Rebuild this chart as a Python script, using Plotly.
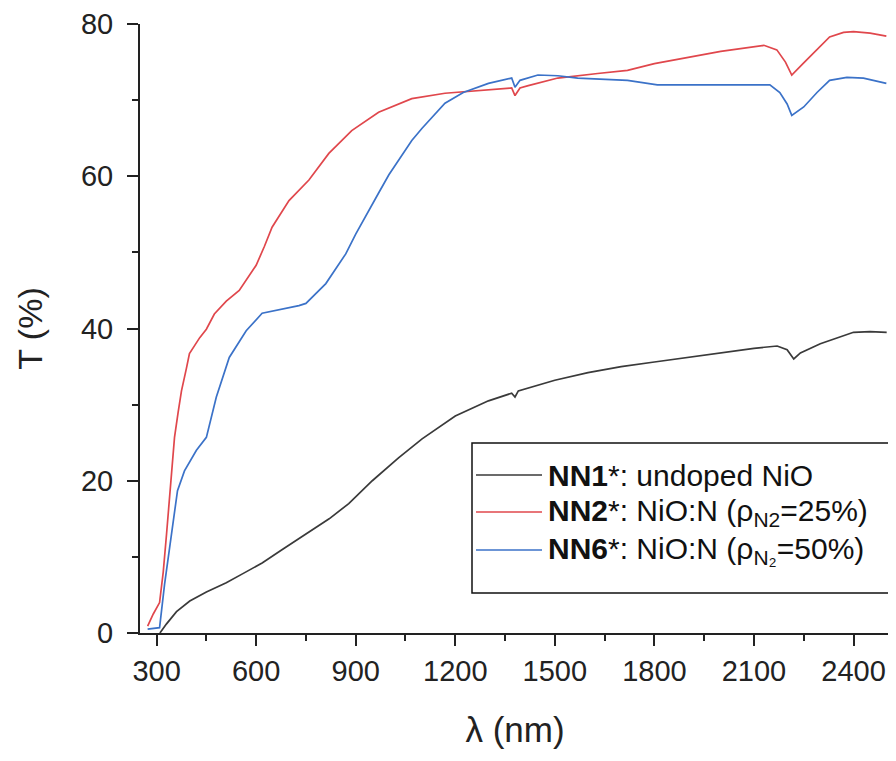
import plotly.graph_objects as go

# NN1 (undoped NiO)
nn1_wl = [310, 330, 360, 400, 450, 510, 560, 618, 680, 750, 820, 879, 950, 1029, 1100, 1200, 1300, 1370, 1380, 1390, 1450, 1500, 1600, 1700, 1800, 1900, 2000, 2100, 2170, 2200, 2220, 2240, 2300, 2350, 2400, 2450, 2500]
nn1_T = [0, 1.2, 2.8, 4.2, 5.4, 6.6, 7.8, 9.2, 11, 13, 15, 17, 20, 23, 25.5, 28.5, 30.5, 31.5, 31.0, 31.8, 32.6, 33.2, 34.2, 35, 35.6, 36.2, 36.8, 37.4, 37.7, 37.2, 36.0, 36.8, 38, 38.8, 39.5, 39.6, 39.5]

# NN2 (NiO:N, 25%)
nn2_wl = [273, 290, 309, 320, 330, 345, 354, 365, 375, 390, 399, 430, 450, 474, 510, 549, 600, 625, 648, 699, 759, 819, 888, 969, 1069, 1169, 1224, 1300, 1370, 1380, 1395, 1420, 1509, 1629, 1719, 1800, 2000, 2130, 2169, 2195, 2214, 2250, 2290, 2328, 2370, 2400, 2450, 2499]
nn2_T = [0.9, 2.5, 4, 8, 13, 20.4, 25.7, 29, 31.8, 34.8, 36.7, 38.8, 39.9, 41.9, 43.6, 45, 48.3, 50.8, 53.3, 56.8, 59.5, 63, 66, 68.4, 70.2, 70.9, 71.1, 71.4, 71.6, 70.6, 71.6, 71.9, 72.9, 73.5, 73.9, 74.8, 76.4, 77.2, 76.6, 75, 73.3, 74.9, 76.7, 78.3, 78.9, 79, 78.8, 78.4]

# NN6 (NiO:N, 50%)
nn6_wl = [273, 309, 324, 345, 363, 384, 420, 450, 480, 519, 570, 618, 690, 729, 750, 810, 870, 900, 969, 1000, 1069, 1100, 1169, 1224, 1300, 1370, 1380, 1395, 1449, 1509, 1569, 1719, 1809, 2148, 2178, 2200, 2214, 2250, 2290, 2328, 2380, 2430, 2499]
nn6_T = [0.5, 0.7, 6.4, 13, 18.7, 21.3, 24, 25.7, 31, 36.2, 39.7, 42, 42.6, 43, 43.3, 45.9, 49.8, 52.4, 57.8, 60.2, 64.7, 66.3, 69.6, 71.0, 72.2, 72.9, 71.7, 72.6, 73.3, 73.2, 72.9, 72.6, 72, 72, 71, 69.5, 68, 69.1, 71, 72.6, 73, 72.9, 72.2]

series_names = [
    "<b>NN1</b>*: undoped NiO",
    "<b>NN2</b>*: NiO:N (ρ<sub>N2</sub>=25%)",
    "<b>NN6</b>*: NiO:N (ρ<sub>N₂</sub>=50%)",
]
colors = ["#3a3a3a", "#e0474c", "#3b72c8"]

FONT = "Liberation Sans, Arial, sans-serif"
W, H = 896, 761
OFF = 8  # page body margin offset
ML, MR, MT, MB = 140 - OFF, 6 + OFF, 24 - OFF, 128 + OFF
PW, PH = W - ML - MR, H - MT - MB


def px(x):
    return (x - OFF - ML) / PW


def py(y):
    return (H - MB - (y - OFF)) / PH


fig = go.Figure()
for wl, T, name, c in zip([nn1_wl, nn2_wl, nn6_wl], [nn1_T, nn2_T, nn6_T], series_names, colors):
    fig.add_trace(go.Scatter(x=wl, y=T, mode="lines", name=name, showlegend=False,
                             line=dict(color=c, width=1.7)))

# legend drawn as box + sample lines + labels
shapes = [dict(type="rect", xref="paper", yref="paper",
               x0=px(472), x1=px(890), y0=py(593), y1=py(443),
               line=dict(color="#111", width=1.5), fillcolor="white", layer="above")]
annotations = []
row_y = [475, 512, 550]
for name, c, ry in zip(series_names, colors, row_y):
    shapes.append(dict(type="line", xref="paper", yref="paper",
                       x0=px(476), x1=px(542), y0=py(ry), y1=py(ry),
                       line=dict(color=c, width=1.6), layer="above"))
    annotations.append(dict(xref="paper", yref="paper", x=px(546), y=py(ry),
                            xanchor="left", yanchor="middle", showarrow=False,
                            text=name, font=dict(family=FONT, size=30, color="#111")))

fig.update_layout(
    width=W, height=H,
    margin=dict(l=ML, r=MR, t=MT, b=MB, autoexpand=False),
    paper_bgcolor="white", plot_bgcolor="white",
    font=dict(family=FONT, size=28, color="#222"),
    showlegend=False,
    shapes=shapes,
    annotations=annotations,
    xaxis=dict(range=[250, 2510], tick0=300, dtick=300, automargin=False,
               showgrid=False, zeroline=False,
               showline=True, linecolor="#222", linewidth=2,
               ticks="outside", ticklen=11, tickwidth=2, tickcolor="#222",
               minor=dict(ticks="outside", ticklen=6, tickwidth=2, tickcolor="#222", tick0=150, dtick=300),
               tickfont=dict(size=29),
               title=dict(text="λ (nm)", font=dict(size=35), standoff=32)),
    yaxis=dict(range=[0, 80], tick0=0, dtick=20, automargin=False,
               showgrid=False, zeroline=False,
               showline=True, linecolor="#222", linewidth=2,
               ticks="outside", ticklen=11, tickwidth=2, tickcolor="#222",
               minor=dict(ticks="outside", ticklen=6, tickwidth=2, tickcolor="#222", dtick=10),
               tickfont=dict(size=29), ticklabelstandoff=8,
               title=dict(text="T (%)", font=dict(size=34), standoff=28)),
)

fig.write_html("out.html")
